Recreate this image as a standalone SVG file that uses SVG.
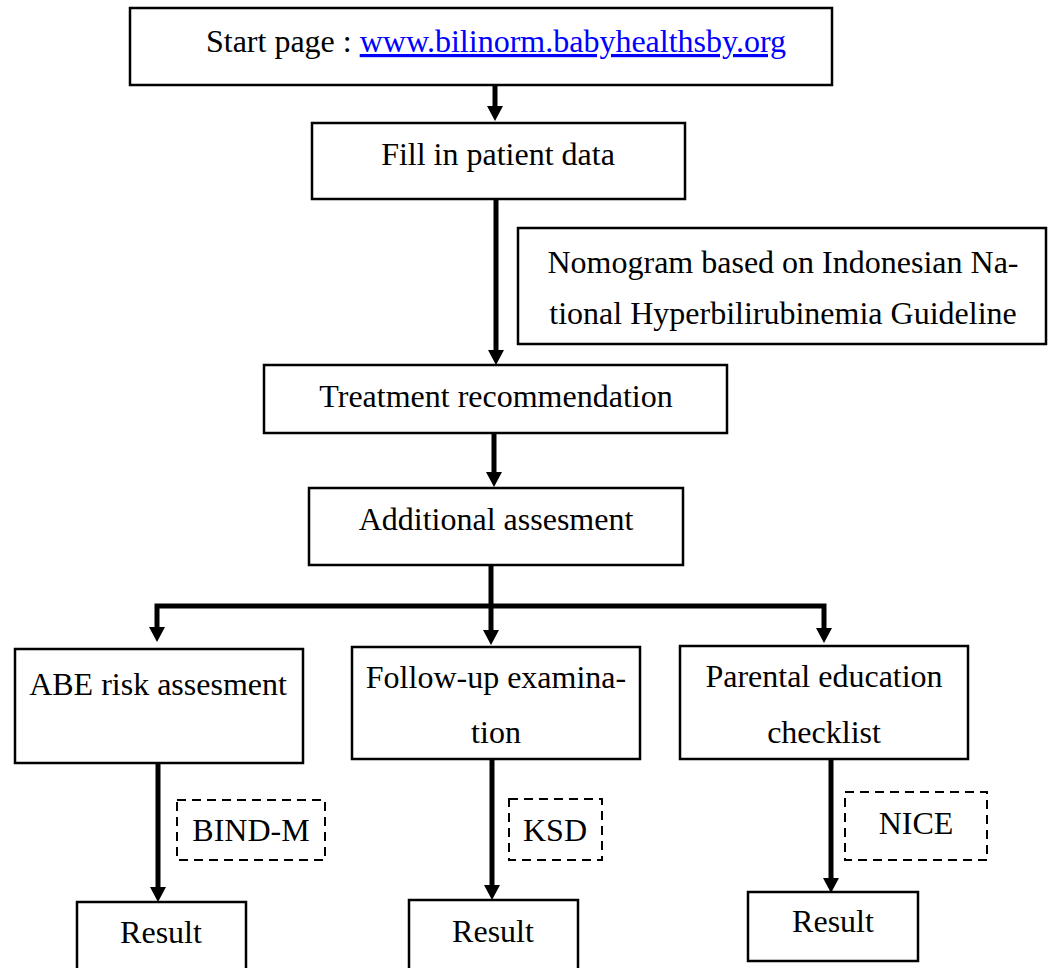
<svg xmlns="http://www.w3.org/2000/svg" width="1052" height="968" viewBox="0 0 1052 968">
<style>
.box{fill:#fff;stroke:#000;stroke-width:2.5}
.dash{fill:#fff;stroke:#000;stroke-width:2;stroke-dasharray:9,6}
.t{font-family:"Liberation Serif","Times New Roman",serif;font-size:32px;fill:#000;text-anchor:middle}
.link{fill:#0000ff;text-decoration:underline}
.c{fill:none;stroke:#000;stroke-width:5}
</style>
<defs>
<marker id="ah" markerUnits="userSpaceOnUse" markerWidth="16" markerHeight="16" refX="1" refY="8" orient="auto">
<path d="M0,0 L15,8 L0,16 z" fill="#000"/>
</marker>
</defs>
<rect width="1052" height="968" fill="#fff"/>
<g id="connectors">
<path class="c" d="M495,85 V107" marker-end="url(#ah)"/>
<path class="c" d="M496,199 V351" marker-end="url(#ah)"/>
<path class="c" d="M494,433 V473" marker-end="url(#ah)"/>
<path class="c" d="M491,565 V606"/>
<path class="c" d="M491,606 H157 V628" marker-end="url(#ah)"/>
<path class="c" d="M491,606 H824 V629" marker-end="url(#ah)"/>
<path class="c" d="M491,606 V631" marker-end="url(#ah)"/>
<path class="c" d="M158,763 V888" marker-end="url(#ah)"/>
<path class="c" d="M492,759 V886" marker-end="url(#ah)"/>
<path class="c" d="M831,759 V879" marker-end="url(#ah)"/>
</g>
<g id="start">
<rect class="box" x="130" y="8" width="702" height="77"/>
<text class="t" x="496" y="52">Start page : <tspan class="link">www.bilinorm.babyhealthsby.org</tspan></text>
</g>
<g id="fill">
<rect class="box" x="312" y="123" width="373" height="76"/>
<text class="t" x="498" y="165">Fill in patient data</text>
</g>
<g id="nomogram">
<rect class="box" x="518" y="228" width="528" height="116"/>
<text class="t" x="783" y="273">Nomogram based on Indonesian Na-</text>
<text class="t" x="783" y="324">tional Hyperbilirubinemia Guideline</text>
</g>
<g id="treatment">
<rect class="box" x="264" y="365" width="463" height="68"/>
<text class="t" x="496" y="407">Treatment recommendation</text>
</g>
<g id="additional">
<rect class="box" x="309" y="488" width="374" height="77"/>
<text class="t" x="496" y="530">Additional assesment</text>
</g>
<g id="abe">
<rect class="box" x="15" y="649" width="288" height="114"/>
<text class="t" x="158" y="695">ABE risk assesment</text>
</g>
<g id="followup">
<rect class="box" x="352" y="647" width="288" height="112"/>
<text class="t" x="496" y="688">Follow-up examina-</text>
<text class="t" x="496" y="743">tion</text>
</g>
<g id="parental">
<rect class="box" x="680" y="646" width="288" height="113"/>
<text class="t" x="824" y="687">Parental education</text>
<text class="t" x="824" y="743">checklist</text>
</g>
<g id="bindm">
<rect class="dash" x="177" y="800" width="148" height="60"/>
<text class="t" x="251" y="841">BIND-M</text>
</g>
<g id="ksd">
<rect class="dash" x="509" y="799" width="93" height="61"/>
<text class="t" x="555" y="841">KSD</text>
</g>
<g id="nice">
<rect class="dash" x="845" y="792" width="142" height="68"/>
<text class="t" x="916" y="834">NICE</text>
</g>
<g id="result1">
<rect class="box" x="77" y="902" width="169" height="70"/>
<text class="t" x="161" y="943">Result</text>
</g>
<g id="result2">
<rect class="box" x="409" y="900" width="169" height="72"/>
<text class="t" x="493" y="942">Result</text>
</g>
<g id="result3">
<rect class="box" x="748" y="892" width="170" height="69"/>
<text class="t" x="833" y="932">Result</text>
</g>
</svg>
